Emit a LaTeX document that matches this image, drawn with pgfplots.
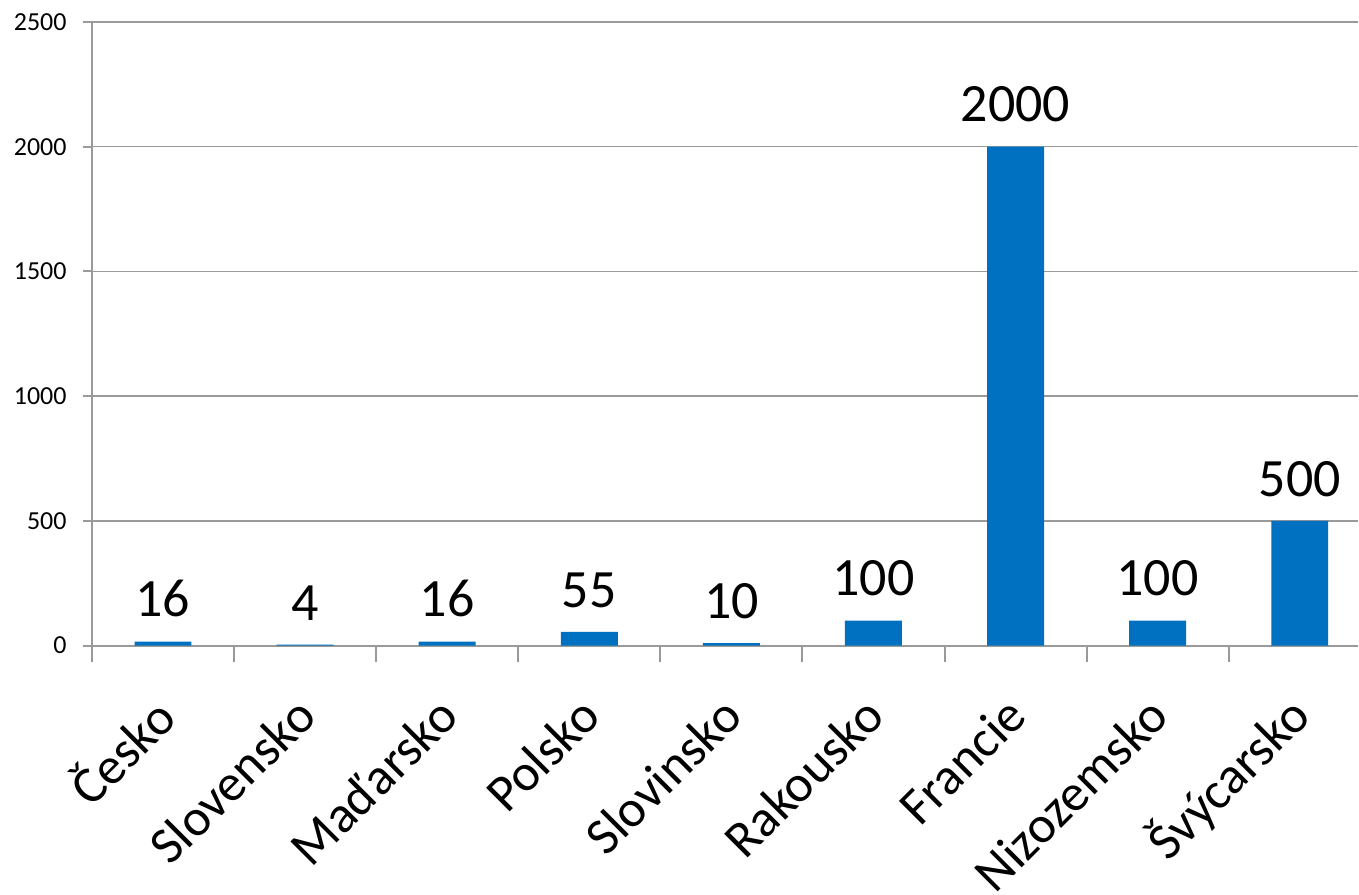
\documentclass[border=0pt]{standalone}
\usepackage{pgfplots}
\pgfplotsset{compat=1.18}
\usepackage{fontspec}
\setmainfont{Carlito}
\definecolor{barblue}{HTML}{0070C0}
\definecolor{linegray}{HTML}{9A9A9A}

\begin{document}
\begin{tikzpicture}
\begin{axis}[
  scale only axis,
  width=633.5pt, height=312pt,
  xmin=-0.5, xmax=8.41,
  ymin=0, ymax=2500,
  ytick={0,500,...,2500},
  xtick={0,...,8},
  xticklabels={Česko,Slovensko,Maďarsko,Polsko,Slovinsko,Rakousko,Francie,Nizozemsko,Švýcarsko},
  axis lines*=left,
  axis line style={linegray, line width=1pt},
  ymajorgrids,
  grid style={linegray, line width=0.8pt},
  tick align=outside,
  major tick length=4.5pt,
  tick style={linegray, line width=1pt},
  xtick style={draw=none},
  extra x ticks={-0.5,0.5,...,7.5},
  extra x tick labels={},
  extra x tick style={grid=none, major tick length=8pt, xtick style={draw=linegray}},
  /pgf/number format/assume math mode=true,
  /pgf/number format/1000 sep={},
  yticklabel style={font=\fontsize{13pt}{15pt}\selectfont, inner sep=0pt, xshift=-8pt},
  xticklabel style={font=\fontsize{26pt}{30pt}\selectfont, xshift=0.5pt, yshift=-26pt, rotate=45, anchor=east, inner sep=0pt},
  clip=false,
]
\addplot[ybar, bar width=28.5pt, fill=barblue, draw=none,
  nodes near coords,
  every node near coord/.append style={font=\fontsize{27pt}{30pt}\selectfont, black, anchor=south, inner sep=0pt, yshift=12pt}]
  coordinates {(0,16)(1,4)(2,16)(3,55)(4,10)(5,100)(6,2000)(7,100)(8,500)};
\end{axis}
\path ([xshift=-46pt]current axis.south west) ([yshift=11pt]current axis.north west);
\end{tikzpicture}
\end{document}
